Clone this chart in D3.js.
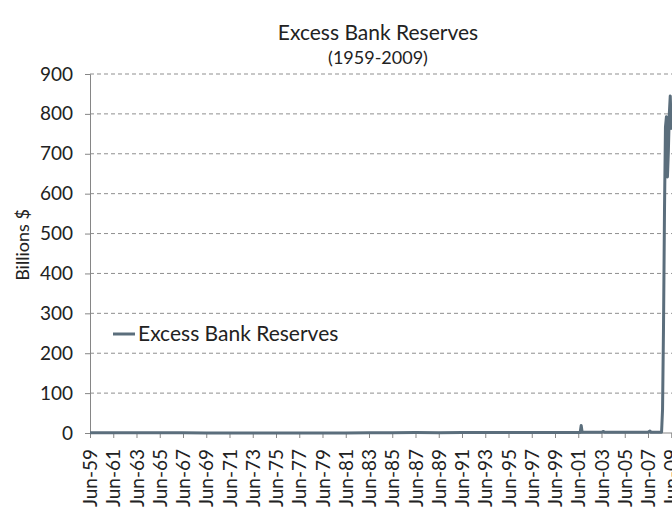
<!DOCTYPE html>
<html>
<head>
<meta charset="utf-8">
<script src="https://cdn.jsdelivr.net/npm/d3@7"></script>
<style>
  body { margin: 0; background: #fff; }
  text { font-family: Lato, "Open Sans", sans-serif; fill: #222; }
</style>
</head>
<body>
<div id="chart"></div>
<script>
// data (billions $), sparse where the line is flat
var months = ["1959-06", "1961-06", "1963-06", "1965-06", "1967-06", "1969-06", "1971-06",
  "1973-06", "1975-06", "1977-06", "1979-06", "1981-06", "1983-06", "1985-06", "1987-06",
  "1989-06", "1991-06", "1993-06", "1995-06", "1997-06", "1999-06", "2001-06", "2001-08",
  "2001-09", "2001-10", "2003-06", "2003-08", "2003-09", "2005-06", "2007-06", "2007-08",
  "2007-09", "2008-08", "2008-09", "2008-10", "2008-11", "2008-12", "2009-01", "2009-02",
  "2009-03", "2009-04", "2009-05", "2009-06"];
var reserves = [0.5, 0.6, 0.4, 0.4, 0.4, 0.3, 0.2,
  0.2, 0.3, 0.2, 0.3, 0.3, 0.5, 0.8, 1.0,
  0.9, 1.0, 1.1, 1.0, 1.2, 1.2, 1.1, 1.3,
  19, 1.7, 1.8, 4, 1.6, 1.7, 1.7, 5,
  1.9, 1.9, 60, 267, 559, 767, 793, 642,
  703, 800, 845, 760];
var tickYears = [1959, 1961, 1963, 1965, 1967, 1969, 1971, 1973, 1975, 1977, 1979, 1981, 1983,
  1985, 1987, 1989, 1991, 1993, 1995, 1997, 1999, 2001, 2003, 2005, 2007, 2009];
var yTicks = [0, 100, 200, 300, 400, 500, 600, 700, 800, 900];

var svgWidth = 672;
var svgHeight = 512;
var margin = { top: 74, left: 90, bottom: 79 };
var plotBottom = svgHeight - margin.bottom;

var parseMonth = d3.timeParse("%Y-%m");
var data = months.map(function(m, i) {
  return { date: parseMonth(m), value: reserves[i] };
});
var tickDates = tickYears.map(function(y) { return new Date(y, 5, 1); });

var svg = d3.select("#chart")
  .append("svg")
  .attr("width", svgWidth)
  .attr("height", svgHeight);

var xScale = d3.scaleTime()
  .domain([tickDates[0], tickDates[tickDates.length - 1]])
  .range([margin.left, 671.25]);

var yScale = d3.scaleLinear()
  .domain([0, 900])
  .range([plotBottom, margin.top]);

// gridlines
svg.append("g")
  .selectAll("line")
  .data(yTicks.slice(1))
  .enter()
  .append("line")
  .attr("x1", margin.left)
  .attr("x2", 700)
  .attr("y1", d => yScale(d))
  .attr("y2", d => yScale(d))
  .attr("stroke", "#8f8f8f")
  .attr("stroke-width", 1)
  .attr("stroke-dasharray", "4,3");

// y axis
var leftAxis = d3.axisLeft(yScale).tickValues(yTicks).tickSize(5).tickPadding(12);
var yAxis = svg.append("g")
  .attr("transform", `translate(${margin.left},0)`)
  .call(leftAxis);
yAxis.select(".domain").attr("stroke", "#868686");
yAxis.selectAll(".tick line").attr("stroke", "#868686");
yAxis.selectAll("text")
  .style("font-size", "19px")
  .attr("fill", "#222");

// x axis
var bottomAxis = d3.axisBottom(xScale)
  .tickValues(tickDates)
  .tickSize(5)
  .tickFormat(d3.timeFormat("%b-%y"));
var xAxis = svg.append("g")
  .attr("transform", `translate(0,${plotBottom})`)
  .call(bottomAxis);
xAxis.select(".domain").attr("stroke", "#868686").attr("d", `M${margin.left},0H700`);
xAxis.selectAll(".tick line").attr("stroke", "#868686");
xAxis.selectAll("text")
  .style("font-size", "19px")
  .attr("fill", "#222")
  .attr("text-anchor", "end")
  .attr("transform", "rotate(-90)")
  .attr("x", -16)
  .attr("y", 0)
  .attr("dy", "0.35em");

// series line
var line = d3.line()
  .x(d => xScale(d.date))
  .y(d => yScale(d.value));

svg.append("path")
  .datum(data)
  .attr("fill", "none")
  .attr("stroke", "#5b6e7c")
  .attr("stroke-width", 3)
  .attr("stroke-linejoin", "round")
  .attr("d", line);

// titles
svg.append("text")
  .attr("x", 378)
  .attr("y", 40)
  .attr("text-anchor", "middle")
  .style("font-size", "21px")
  .text("Excess Bank Reserves");

svg.append("text")
  .attr("x", 378)
  .attr("y", 64)
  .attr("text-anchor", "middle")
  .style("font-size", "18px")
  .text("(1959-2009)");

svg.append("text")
  .attr("transform", "rotate(-90)")
  .attr("x", -245)
  .attr("y", 29)
  .attr("text-anchor", "middle")
  .style("font-size", "18px")
  .text("Billions $");

// legend
var legend = svg.append("g").attr("transform", "translate(113,334)");
legend.append("line")
  .attr("x1", 0)
  .attr("x2", 22)
  .attr("stroke", "#5b6e7c")
  .attr("stroke-width", 3);
legend.append("text")
  .attr("x", 25)
  .attr("y", 0)
  .attr("dy", "0.35em")
  .style("font-size", "21px")
  .text("Excess Bank Reserves");
</script>
</body>
</html>
